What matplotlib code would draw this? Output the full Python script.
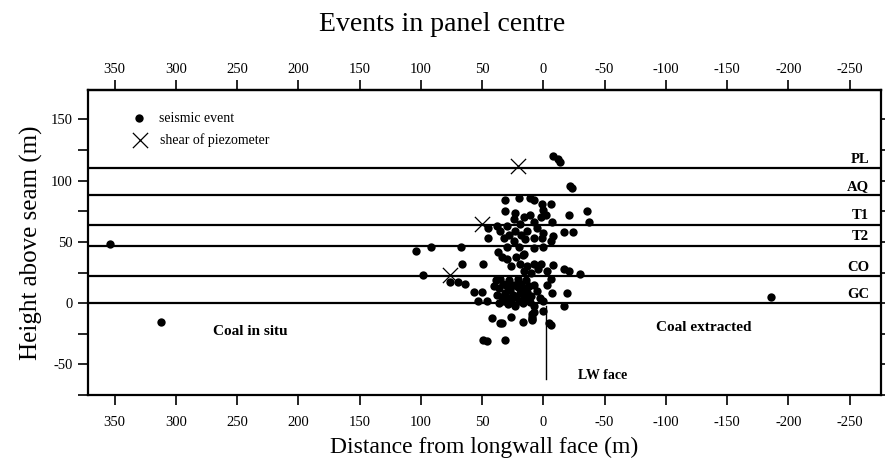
import matplotlib
matplotlib.use("Agg")
import matplotlib.pyplot as plt
import numpy as np

plt.rcParams['font.family'] = ['Liberation Serif', 'DejaVu Serif']
plt.rcParams['axes.unicode_minus'] = False

# seismic events: distance from longwall face (m), height above seam (m)
event_dist = [
    -8, -12, -14,
    -22, -23,
    31, 20, 11, 8, 1, -6, 0, 23, 31, 24, 16, 11, 2, 8, 19, 30, -7, -21, -36, -37, -2,
    45, 45, 38, 35, 23, 13, 5, 0, -17, -24, -8, 32, 24, 15, 8, 1, -6, 30, 20, 8, 0, 28, 18,
    104, 92, 67, 98,
    66, 49, 37, 34, 30, 16, 19, 13, 8, 2, -8, -17, -21, -30, 22, 17, 26, 10, 16, 4,
    76, 70, 64, 57, 50, 53, 46, 39, -6, -3, -7, -19, -17, 0, -3,
    40, 36, 33, 30, 27, 24, 21, 18, 15, 12, 38, 34, 31, 28, 25, 22, 19, 16, 13, 10,
    36, 32, 29, 26, 23, 20, 17, 14, 11, 8, 35, 28, 21, 14, 8, 5, 3, 8, 9, 9,
    42, 35, 26, 17, 9, 9, 0, -6, -5, 49, 46, 31, 34,
    354, 312, -186,
]
event_height = [
    120, 118, 115,
    96, 94,
    84, 86, 86, 84, 81, 81, 76, 74, 75, 69, 70, 72, 70, 66, 65, 63, 66, 72, 75, 66, 72,
    61, 53, 63, 59, 59, 59, 61, 57, 58, 58, 55, 53, 51, 52, 53, 53, 51, 46, 46, 45, 46, 56, 56,
    43, 46, 46, 23,
    32, 32, 42, 38, 36, 40, 32, 30, 32, 32, 31, 28, 26, 24, 38, 39, 30, 25, 26, 28,
    17, 17, 16, 9, 9, 2, 2, 19, 20, 15, 8, 8, -2, 2, 26,
    14, 12, 16, 14, 11, 15, 13, 16, 12, 14, 7, 5, 8, 4, 7, 5, 8, 6, 9, 6,
    0, 2, -1, 1, -2, 2, 0, 3, 1, -2, 20, 19, 20, 19, 15, 10, 4, -7, -13, -9,
    -12, -16, -11, -15, -11, -14, -6, -18, -16, -30, -31, -30, -16,
    48, -15, 5,
]

# shear of piezometer
shear_dist = [21, 50, 76]
shear_height = [112, 65, 23]

# geological horizons
horizon_names = ['PL', 'AQ', 'T1', 'T2', 'CO', 'GC']
horizon_heights = [110, 88, 64, 47, 22, 0]

x_ticks = [350, 300, 250, 200, 150, 100, 50, 0, -50, -100, -150, -200, -250]
x_tick_labels = [str(t) for t in x_ticks]
y_major = [-50, 0, 50, 100, 150]
y_minor = [-75, -25, 25, 75, 125]

fig = plt.figure(figsize=(8.85, 4.62), dpi=100)
ax = fig.add_axes([0.099, 0.145, 0.897, 0.66])

ax.set_xlim(372, -276)
ax.set_ylim(-75, 174)

for h in horizon_heights:
    ax.axhline(h, color='black', lw=1.6, zorder=1)
for name, h in zip(horizon_names, horizon_heights):
    ax.text(-266, h + 2, name, ha='right', va='bottom', fontsize=10.5,
            fontweight='bold', zorder=3)

ax.scatter(event_dist, event_height, s=36, color='black', zorder=4, linewidths=0)
ax.scatter(shear_dist, shear_height, s=120, marker='x', color='black',
           linewidths=0.9, zorder=4)

# LW face line
ax.plot([-2, -2], [-2, -62], color='black', lw=1.0, zorder=2)
ax.text(-28, -59, 'LW face', ha='left', va='center', fontsize=10, fontweight='bold')
ax.text(239, -23, 'Coal in situ', ha='center', va='center', fontsize=11, fontweight='bold')
ax.text(-131, -20, 'Coal extracted', ha='center', va='center', fontsize=11, fontweight='bold')

# legend (hand placed in data coords)
ax.scatter([330], [151], s=36, color='black', linewidths=0)
ax.text(314, 151, 'seismic event', ha='left', va='center', fontsize=10)
ax.scatter([329], [133], s=120, marker='x', color='black', linewidths=0.9)
ax.text(313, 133, 'shear of piezometer', ha='left', va='center', fontsize=10)

ax.set_xticks(x_ticks)
ax.set_xticklabels(x_tick_labels)
ax.set_yticks(y_major)
ax.set_yticks(y_minor, minor=True)
ax.tick_params(axis='both', which='both', direction='out', length=7, width=1.2,
               labelsize=10.5)
ax.tick_params(axis='x', which='major', pad=8, top=False, labeltop=False)
ax.tick_params(axis='y', right=True, labelright=False, which='both')

# top axis with its own, smaller label pad
top = ax.secondary_xaxis('top')
top.set_xticks(x_ticks)
top.set_xticklabels(x_tick_labels)
top.tick_params(direction='out', length=7, width=1.2, labelsize=10.5, pad=3)
top.spines['top'].set_linewidth(1.6)

for sp in ax.spines.values():
    sp.set_linewidth(1.6)

ax.set_xlabel('Distance from longwall face (m)', fontsize=17, labelpad=6)
ax.set_ylabel('Height above seam (m)', fontsize=18, labelpad=6)
fig.suptitle('Events in panel centre', fontsize=20, y=0.975)

fig.savefig('out.png', dpi=100)
